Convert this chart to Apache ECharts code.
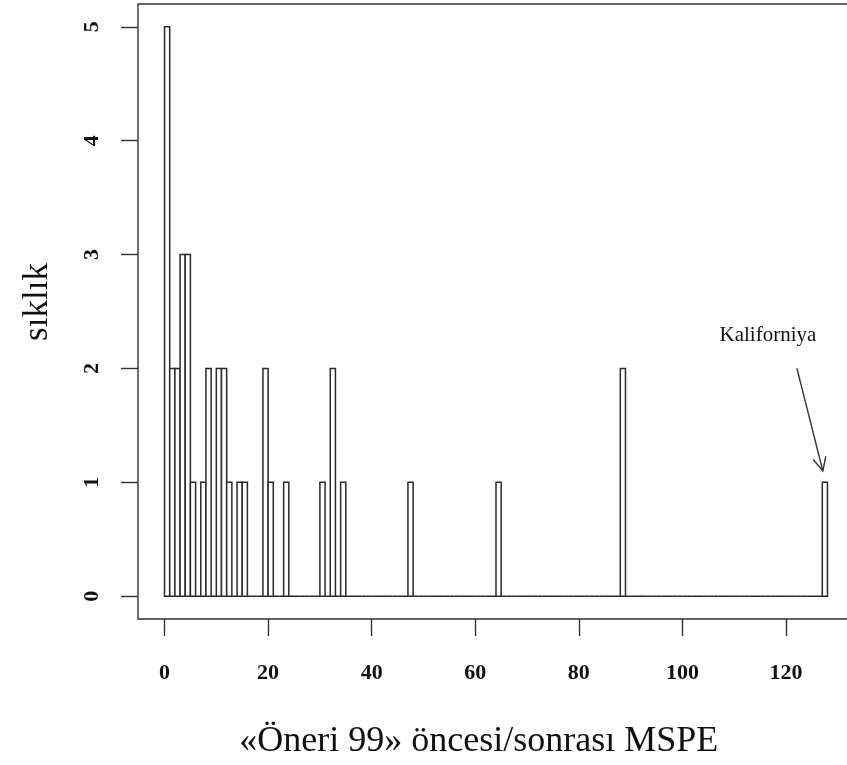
<!DOCTYPE html>
<html lang="tr">
<head>
<meta charset="UTF-8">
<title>MSPE histogram</title>
<script src="https://cdn.jsdelivr.net/npm/echarts@6/dist/echarts.min.js"></script>
<style>
  html, body { margin: 0; padding: 0; background: #fff; }
  #chart { width: 847px; height: 765px; }
</style>
</head>
<body>
<div id="chart"></div>
<script>
// histogram bins of width 1 (only non-empty bins listed, others are 0)
var binLeft = [0, 1, 2, 3, 4, 5, 7, 8, 10, 11, 12, 14, 15, 19, 20, 23, 30, 32, 34, 47, 64, 88, 127];
var counts  = [5, 2, 2, 3, 3, 1, 1, 2, 2,  2,  1,  1,  1,  2,  1,  1,  1,  2,  1,  1,  1,  2,  1];
var binWidth = 1;
var lastBin = 128;
var xTicks = [0, 20, 40, 60, 80, 100, 120];
var yTicks = [0, 1, 2, 3, 4, 5];
var xTitle = '«Öneri 99» öncesi/sonrası MSPE';
var yTitle = 'sıklık';
var noteText = 'Kaliforniya';

var serif = '"Liberation Serif", "DejaVu Serif", serif';

// full histogram incl. empty bins (drawn as flat line on 0 like R)
var hist = [];
for (var b = 0; b < lastBin; b += binWidth) {
    var i = binLeft.indexOf(b);
    hist.push([b, b + binWidth, i >= 0 ? counts[i] : 0]);
}

// R-style padding of 4% around data range
var xPad = (lastBin - 0) * 0.04;
var yPad = 5 * 0.04;

var dom = document.getElementById('chart');
var myChart = echarts.init(dom, null, { renderer: 'canvas' });

var L = 138, T = 4, W = 716, H = 615;
var pxX = W / (lastBin + 2 * xPad);
var pxY = H / (5 + 2 * yPad);
var x0 = L + xPad * pxX;
var y0 = T + H - yPad * pxY;

var option = {
    animation: false,
    backgroundColor: '#fff',
    grid: [
        { left: L, top: T, width: W, height: H, show: true, borderColor: '#333', borderWidth: 1.4,
          backgroundColor: 'transparent', outerBoundsMode: 'none', containLabel: false },
        // grid used only for the x axis (0..120)
        { left: x0, top: T, width: 120 * pxX, height: H, show: false, outerBoundsMode: 'none', containLabel: false },
        // grid used only for the y axis (0..5)
        { left: L, top: y0 - 5 * pxY, width: W, height: 5 * pxY, show: false, outerBoundsMode: 'none', containLabel: false }
    ],
    xAxis: [
        { gridIndex: 0, type: 'value', min: -xPad, max: lastBin + xPad, show: false },
        {
            gridIndex: 1, type: 'value', min: 0, max: 120, interval: 20,
            axisLine: { show: false },
            axisTick: { show: true, length: 17, lineStyle: { color: '#333', width: 1.4 } },
            splitLine: { show: false },
            axisLabel: { color: '#111', fontFamily: serif, fontSize: 22, fontWeight: 'bold', margin: 43 },
            name: xTitle, nameLocation: 'middle', nameGap: 105,
            nameTextStyle: { color: '#111', fontFamily: serif, fontSize: 36, padding: [0, 0, 0, 7] }
        },
        { gridIndex: 2, type: 'value', show: false }
    ],
    yAxis: [
        { gridIndex: 0, type: 'value', min: -yPad, max: 5 + yPad, show: false },
        { gridIndex: 1, type: 'value', show: false },
        {
            gridIndex: 2, type: 'value', min: 0, max: 5, interval: 1,
            axisLine: { show: false },
            axisTick: { show: true, length: 17, lineStyle: { color: '#333', width: 1.4 } },
            splitLine: { show: false },
            axisLabel: { color: '#111', fontFamily: serif, fontSize: 22, fontWeight: 'bold', margin: 35, rotate: 90 }
        }
    ],
    series: [
        {
            type: 'custom',
            xAxisIndex: 0, yAxisIndex: 0,
            data: hist,
            clip: false,
            renderItem: function (params, api) {
                var p1 = api.coord([api.value(0), api.value(2)]);
                var p2 = api.coord([api.value(1), 0]);
                return {
                    type: 'rect',
                    shape: { x: p1[0], y: p1[1], width: p2[0] - p1[0], height: p2[1] - p1[1] },
                    style: { fill: '#fff', stroke: '#2a2a2a', lineWidth: 1.5 }
                };
            }
        }
    ]
};
myChart.setOption(option);

// annotation: label + arrow pointing at the California bar
var from = myChart.convertToPixel({ gridIndex: 0 }, [122.1, 2.0]);
var to = myChart.convertToPixel({ gridIndex: 0 }, [127.1, 1.1]);
var txt = myChart.convertToPixel({ gridIndex: 0 }, [116.5, 2.29]);
var ang = Math.atan2(to[1] - from[1], to[0] - from[0]);
var hl = 15, ha = Math.PI / 7;
myChart.setOption({
    graphic: [
        { type: 'line', shape: { x1: from[0], y1: from[1], x2: to[0], y2: to[1] }, style: { stroke: '#333', lineWidth: 1.4 } },
        { type: 'polyline', shape: { points: [
            [to[0] - hl * Math.cos(ang - ha), to[1] - hl * Math.sin(ang - ha)],
            [to[0], to[1]],
            [to[0] - hl * Math.cos(ang + ha), to[1] - hl * Math.sin(ang + ha)]
        ] }, style: { stroke: '#333', lineWidth: 1.4, fill: null } },
        { type: 'text', x: txt[0], y: txt[1], style: { text: noteText, fill: '#111', font: '21px ' + serif, textAlign: 'center', textVerticalAlign: 'middle' } },
        // y axis title, rotated like R's ylab
        { type: 'text', x: 38, y: 302, rotation: Math.PI / 2,
          style: { text: yTitle, fill: '#111', font: '35px ' + serif, textAlign: 'center', textVerticalAlign: 'middle' } }
    ]
});

window.addEventListener('resize', myChart.resize);
</script>
</body>
</html>
